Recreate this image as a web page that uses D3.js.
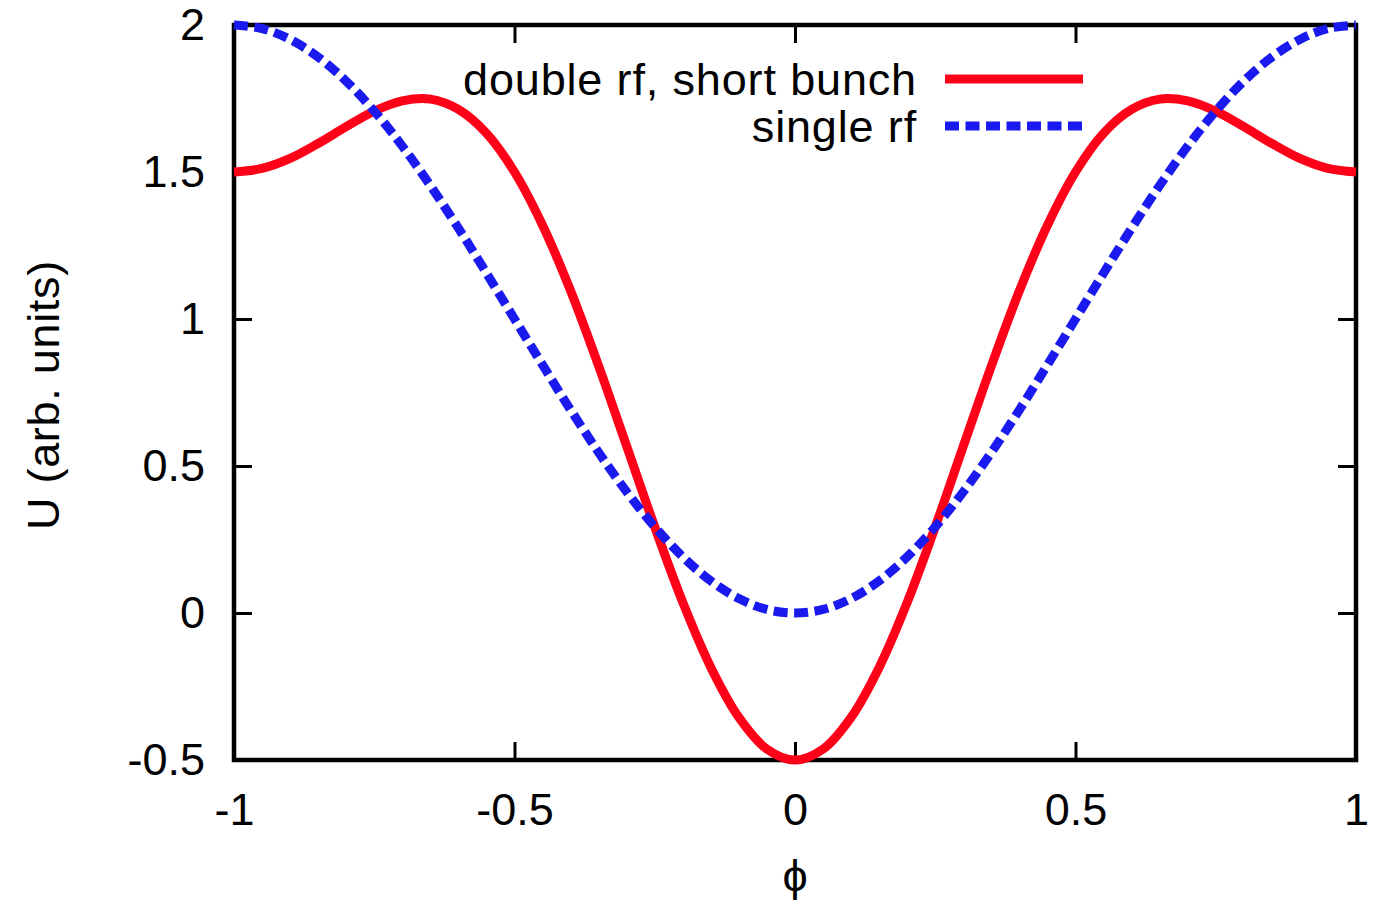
<!DOCTYPE html>
<html>
<head>
<meta charset="utf-8">
<script src="https://cdn.jsdelivr.net/npm/d3@7"></script>
<style>
  html, body { margin: 0; padding: 0; background: #fff; }
  svg { display: block; }
  text { font-family: "Liberation Sans", Arial, Helvetica, sans-serif; fill: #000; }
</style>
</head>
<body>
<svg id="chart" width="1376" height="903"></svg>
<script>
// ---- data ----
const phi = [-1, -0.95, -0.9, -0.85, -0.8, -0.75, -0.7, -0.65, -0.6, -0.55, -0.5,
             -0.45, -0.4, -0.35, -0.3, -0.25, -0.2, -0.15, -0.1, -0.05, 0,
             0.05, 0.1, 0.15, 0.2, 0.25, 0.3, 0.35, 0.4, 0.45, 0.5,
             0.55, 0.6, 0.65, 0.7, 0.75, 0.8, 0.85, 0.9, 0.95, 1];
const uDouble = [1.500, 1.512, 1.546, 1.597, 1.654, 1.707, 1.742, 1.748, 1.713, 1.632, 1.500,
                 1.319, 1.096, 0.840, 0.567, 0.293, 0.036, -0.185, -0.355, -0.463, -0.500,
                 -0.463, -0.355, -0.185, 0.036, 0.293, 0.567, 0.840, 1.096, 1.319, 1.500,
                 1.632, 1.713, 1.748, 1.742, 1.707, 1.654, 1.597, 1.546, 1.512, 1.500];
const uSingle = [2.000, 1.988, 1.951, 1.891, 1.809, 1.707, 1.588, 1.454, 1.309, 1.156, 1.000,
                 0.844, 0.691, 0.546, 0.412, 0.293, 0.191, 0.109, 0.049, 0.012, 0.000,
                 0.012, 0.049, 0.109, 0.191, 0.293, 0.412, 0.546, 0.691, 0.844, 1.000,
                 1.156, 1.309, 1.454, 1.588, 1.707, 1.809, 1.891, 1.951, 1.988, 2.000];
const xTicks = [-1, -0.5, 0, 0.5, 1];
const yTicks = [-0.5, 0, 0.5, 1, 1.5, 2];
const seriesNames = ["double rf, short bunch", "single rf"];
const seriesColors = ["#ff0019", "#1a1aee"];

// ---- layout ----
const mLeft = 234, mRight = 1356, mTop = 25, mBottom = 760;
const fontSize = 45;
const svg = d3.select("#chart");

const x = d3.scaleLinear().domain([-1, 1]).range([mLeft, mRight]);
const y = d3.scaleLinear().domain([-0.5, 2]).range([mBottom, mTop]);

const tickLen = 18;
const fmt = d => String(d);

function styleAxis(g, showLabels) {
  g.select(".domain").remove();
  g.selectAll(".tick line").attr("stroke", "#000").attr("stroke-width", 3);
  g.selectAll(".tick text").style("font-size", fontSize + "px").attr("fill", "#000");
  if (!showLabels) g.selectAll(".tick text").remove();
}

// bottom axis (labels)
svg.append("g").attr("transform", `translate(0,${mBottom})`)
  .call(d3.axisBottom(x).tickValues(xTicks).tickFormat(fmt).tickSizeInner(-tickLen).tickSizeOuter(0).tickPadding(33))
  .call(g => styleAxis(g, true));
// top axis (mirror ticks)
svg.append("g").attr("transform", `translate(0,${mTop})`)
  .call(d3.axisTop(x).tickValues(xTicks).tickSizeInner(-tickLen).tickSizeOuter(0))
  .call(g => styleAxis(g, false));
// left axis (labels)
svg.append("g").attr("transform", `translate(${mLeft},0)`)
  .call(d3.axisLeft(y).tickValues(yTicks).tickFormat(fmt).tickSizeInner(-tickLen).tickSizeOuter(0).tickPadding(29))
  .call(g => styleAxis(g, true));
// right axis (mirror ticks)
svg.append("g").attr("transform", `translate(${mRight},0)`)
  .call(d3.axisRight(y).tickValues(yTicks).tickSizeInner(-tickLen).tickSizeOuter(0))
  .call(g => styleAxis(g, false));

// frame
svg.append("rect")
  .attr("x", mLeft).attr("y", mTop)
  .attr("width", mRight - mLeft).attr("height", mBottom - mTop)
  .attr("fill", "none").attr("stroke", "#000").attr("stroke-width", 4.5);

// axis titles
svg.append("text")
  .attr("x", (mLeft + mRight) / 2).attr("y", 891)
  .attr("text-anchor", "middle")
  .style("font-size", fontSize + "px")
  .text("ϕ");
svg.append("text")
  .attr("transform", `translate(59,395) rotate(-90)`)
  .attr("text-anchor", "middle")
  .style("font-size", fontSize + "px")
  .style("letter-spacing", "0.7px")
  .text("U (arb. units)");

// curves
const line = d3.line()
  .x(d => x(d[0]))
  .y(d => y(d[1]))
  .curve(d3.curveCatmullRom.alpha(0.5));

const dataDouble = phi.map((p, i) => [p, uDouble[i]]);
const dataSingle = phi.map((p, i) => [p, uSingle[i]]);

svg.append("path").datum(dataDouble)
  .attr("d", line)
  .attr("fill", "none")
  .attr("stroke", seriesColors[0])
  .attr("stroke-width", 9)
  .attr("stroke-linejoin", "round");

svg.append("path").datum(dataSingle)
  .attr("d", line)
  .attr("fill", "none")
  .attr("stroke", seriesColors[1])
  .attr("stroke-width", 9)
  .attr("stroke-dasharray", "14,6.5");

// legend
const legY = [79, 126];
const legend = svg.append("g");
seriesNames.forEach((name, i) => {
  legend.append("text")
    .attr("x", 917).attr("y", legY[i])
    .attr("dy", "0.35em")
    .attr("text-anchor", "end")
    .style("font-size", fontSize + "px")
    .style("letter-spacing", "0.85px")
    .text(name);
  const l = legend.append("line")
    .attr("x1", 945).attr("x2", 1083)
    .attr("y1", legY[i]).attr("y2", legY[i])
    .attr("stroke", seriesColors[i])
    .attr("stroke-width", 9);
  if (i === 1) l.attr("stroke-dasharray", "14,6.5");
});
</script>
</body>
</html>
